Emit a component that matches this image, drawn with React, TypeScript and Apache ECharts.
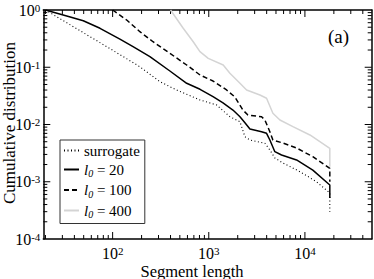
import React, { useEffect, useRef } from "react";
import * as echarts from "echarts";

// Segment length (x) and cumulative distribution (y)
const surrogateX = [20, 39, 86.7, 192, 310, 463, 809, 1207, 1658, 2110, 2376, 2679, 3834, 4318, 4866, 5902, 8870, 13210, 18150, 18150];
const surrogateY = [1, 0.511, 0.229, 0.102, 0.056, 0.0401, 0.0268, 0.0219, 0.01368, 0.0112, 0.00612, 0.00536, 0.0047, 0.00359, 0.0026, 0.00213, 0.0015, 0.001, 0.000636, 0.0003];

const l20X = [20, 33.3, 49.5, 73.9, 119, 163, 244, 394, 589, 811, 1107, 1406, 1783, 2110, 2400, 2679, 3540, 3990, 4318, 4866, 5711, 8185, 12080, 18150, 18150];
const l20Y = [1, 0.786, 0.65, 0.479, 0.311, 0.229, 0.153, 0.086, 0.0525, 0.0412, 0.0306, 0.0238, 0.0179, 0.0137, 0.0105, 0.00834, 0.00748, 0.00702, 0.00536, 0.00335, 0.00293, 0.0024, 0.0016, 0.000877, 0.00052];

const l100X = [100, 140, 192, 263, 394, 589, 811, 1107, 1532, 1871, 2264, 2553, 3540, 3834, 4318, 4643, 5902, 8185, 12080, 18150, 18150];
const l100Y = [1, 0.669, 0.418, 0.279, 0.175, 0.1095, 0.0732, 0.0575, 0.0401, 0.0302, 0.0179, 0.01465, 0.01368, 0.012, 0.00748, 0.00536, 0.00475, 0.00389, 0.00274, 0.00172, 0.001];

const l400X = [400, 542, 689, 809, 987, 1413, 1658, 2110, 2474, 3404, 3990, 4643, 5495, 7499, 11270, 18150, 18150];
const l400Y = [1, 0.479, 0.279, 0.187, 0.143, 0.1095, 0.0784, 0.0525, 0.0401, 0.0327, 0.0287, 0.0157, 0.012, 0.00916, 0.00656, 0.00384, 0.00183];

const seriesNames = ["surrogate", "l0 = 20", "l0 = 100", "l0 = 400"];
const xDecades = [2, 3, 4];
const yDecades = [-4, -3, -2, -1, 0];
const xMin = 19;
const xMax = 49500;
const yMin = 1e-4;
const yMax = 1;

const FONT = "'Liberation Serif', 'DejaVu Serif', serif";

const lg = (v: number) => Math.log10(v);
const toData = (xs: number[], ys: number[]) => xs.map((x, i) => [lg(x), lg(ys[i])]);

function minorTicks(lo: number, hi: number): number[] {
  const out: number[] = [];
  for (let n = Math.floor(lo) - 1; n <= Math.ceil(hi); n++) {
    for (let k = 2; k <= 9; k++) {
      const v = n + Math.log10(k);
      if (v > lo && v < hi) out.push(v);
    }
  }
  return out;
}

export default function App() {
  const ref = useRef<HTMLDivElement>(null);
  useEffect(() => {
    if (!ref.current) return;
    const chart = echarts.init(ref.current, undefined, { renderer: "svg" });
    const xLo = lg(xMin), xHi = lg(xMax), yLo = lg(yMin), yHi = lg(yMax);
    const xMinor = minorTicks(xLo, xHi);
    const yMinor = minorTicks(yLo, yHi);
    const labelRich = {
      b: { fontFamily: FONT, fontSize: 16, color: "#000", lineHeight: 16, verticalAlign: "bottom" },
      s: { fontFamily: FONT, fontSize: 11, color: "#000", lineHeight: 11, verticalAlign: "top" },
    };
    const fmt = (v: number) => `{b|10}{s|${Math.round(v)}}`;

    // tick data: [value, axis (0 = x, 1 = y), length]
    const tickData: number[][] = [
      ...xDecades.map((v) => [v, 0, 7]),
      ...xMinor.map((v) => [v, 0, 4]),
      ...yDecades.filter((v) => v > yLo && v < yHi).map((v) => [v, 1, 7]),
      ...yMinor.map((v) => [v, 1, 4]),
    ];

    const legendRich = {
      n: { fontFamily: FONT, fontSize: 15, color: "#000" },
      i: { fontFamily: FONT, fontSize: 15, fontStyle: "italic", color: "#000" },
      sub: { fontFamily: FONT, fontSize: 10, fontStyle: "italic", color: "#000", padding: [8, 0, 0, 0] },
    };

    const lineSeries = (name: string, xs: number[], ys: number[], color: string, width: number, type: any) => ({
      name,
      type: "line",
      data: toData(xs, ys),
      showSymbol: false,
      symbol: "none",
      lineStyle: { color, width, type },
      itemStyle: { color },
    });

    chart.setOption({
      animation: false,
      grid: { left: 43.3, right: 2.3, top: 10, bottom: 40, containLabel: false },
      xAxis: [
        {
          type: "value",
          min: xLo,
          max: xHi,
          splitLine: { show: false },
          axisLine: { show: true, onZero: false, lineStyle: { color: "#000", width: 1.5 } },
          axisTick: { show: false },
          axisLabel: { show: true, customValues: xDecades, formatter: fmt, margin: 6, rich: labelRich },
        },
        {
          type: "value",
          position: "top",
          min: xLo,
          max: xHi,
          splitLine: { show: false },
          axisLine: { show: true, onZero: false, lineStyle: { color: "#000", width: 1.5 } },
          axisTick: { show: false },
          axisLabel: { show: false },
        },
      ],
      yAxis: [
        {
          type: "value",
          min: yLo,
          max: yHi,
          splitLine: { show: false },
          axisLine: { show: true, onZero: false, lineStyle: { color: "#000", width: 1.5 } },
          axisTick: { show: false },
          axisLabel: { show: true, customValues: yDecades, formatter: fmt, margin: 3, rich: labelRich },
        },
        {
          type: "value",
          position: "right",
          min: yLo,
          max: yHi,
          splitLine: { show: false },
          axisLine: { show: true, onZero: false, lineStyle: { color: "#000", width: 1.5 } },
          axisTick: { show: false },
          axisLabel: { show: false },
        },
      ],
      legend: {
        show: true,
        orient: "vertical",
        left: 60,
        top: 140,
        itemWidth: 15,
        itemHeight: 10,
        itemGap: 4,
        padding: [3, 5, 4, 3],
        borderColor: "#333",
        borderWidth: 1,
        data: seriesNames,
        itemStyle: { opacity: 0 },
        formatter: (name: string) => {
          if (name.startsWith("l0")) return `{i|l}{sub|0}{n|${name.slice(2)}}`;
          return `{n|${name}}`;
        },
        textStyle: { fontFamily: FONT, fontSize: 15, color: "#000", rich: legendRich },
      },
      title: {
        text: "(a)",
        left: 323,
        top: 22,
        textStyle: { fontFamily: FONT, fontSize: 19, fontWeight: "normal", color: "#000" },
      },
      graphic: [
        {
          type: "text",
          x: 192,
          y: 271,
          style: { text: "Segment length", font: `16.5px ${FONT}`, fill: "#000", textAlign: "center", textVerticalAlign: "middle" },
        },
        {
          type: "text",
          x: 9,
          y: 123,
          rotation: Math.PI / 2,
          style: { text: "Cumulative distribution", font: `17px ${FONT}`, fill: "#000", textAlign: "center", textVerticalAlign: "middle" },
        },
      ],
      series: [
        lineSeries(seriesNames[0], surrogateX, surrogateY, "#000", 1.1, [1, 2.5]),
        lineSeries(seriesNames[1], l20X, l20Y, "#000", 1.5, "solid"),
        lineSeries(seriesNames[2], l100X, l100Y, "#000", 1.5, [5, 3]),
        lineSeries(seriesNames[3], l400X, l400Y, "#d4d4d4", 1.5, "solid"),
        {
          type: "custom",
          name: "ticks",
          silent: true,
          clip: false,
          data: tickData,
          renderItem: (params: any, api: any) => {
            const v = api.value(0);
            const axis = api.value(1);
            const len = api.value(2);
            const style = { stroke: "#000", lineWidth: 1 };
            if (axis === 0) {
              const b = api.coord([v, yLo]);
              const t = api.coord([v, yHi]);
              return {
                type: "group",
                children: [
                  { type: "line", shape: { x1: b[0], y1: b[1], x2: b[0], y2: b[1] - len }, style },
                  { type: "line", shape: { x1: t[0], y1: t[1], x2: t[0], y2: t[1] + len }, style },
                ],
              };
            }
            const l = api.coord([xLo, v]);
            const r = api.coord([xHi, v]);
            return {
              type: "group",
              children: [
                { type: "line", shape: { x1: l[0], y1: l[1], x2: l[0] + len, y2: l[1] }, style },
                { type: "line", shape: { x1: r[0], y1: r[1], x2: r[0] - len, y2: r[1] }, style },
              ],
            };
          },
        },
      ],
    });
    return () => chart.dispose();
  }, []);
  return <div ref={ref} style={{ width: 374, height: 279, position: "absolute", left: 0, top: 0 }} />;
}
